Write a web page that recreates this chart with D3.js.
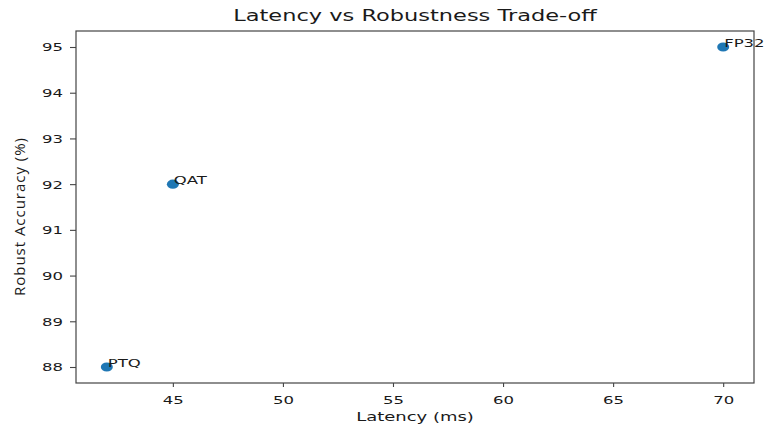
<!DOCTYPE html>
<html>
<head>
<meta charset="utf-8">
<script src="https://cdn.jsdelivr.net/npm/d3@7"></script>
<style>
  body { margin: 0; background: #fff; }
  text { font-family: "DejaVu Sans", sans-serif; fill: #1a1a1a; }
</style>
</head>
<body>
<div id="chart"></div>
<script>
// data
var models = ["FP32", "QAT", "PTQ"];
var latency = [70, 45, 42];
var robustAcc = [95, 92, 88];
var xTicks = [45, 50, 55, 60, 65, 70];
var yTicks = [88, 89, 90, 91, 92, 93, 94, 95];

var svgWidth = 767;
var svgHeight = 426;
var margin = { top: 31, right: 13, bottom: 43, left: 76 };
var width = svgWidth - margin.left - margin.right;
var height = svgHeight - margin.top - margin.bottom;
var sx = 1.5; // picture is stretched sideways

var svg = d3.select("#chart")
  .append("svg")
  .attr("width", svgWidth)
  .attr("height", svgHeight);

var chartGroup = svg.append("g")
  .attr("transform", `translate(${margin.left}, ${margin.top})`);

var xScale = d3.scaleLinear()
  .domain([40.6, 71.4])
  .range([0, width]);

var yScale = d3.scaleLinear()
  .domain([87.65, 95.35])
  .range([height, 0]);

var bottomAxis = d3.axisBottom(xScale).tickValues(xTicks).tickSize(4);
var leftAxis = d3.axisLeft(yScale).tickValues(yTicks).tickSize(6);

var xg = chartGroup.append("g")
  .attr("transform", `translate(0, ${height})`)
  .call(bottomAxis);
xg.select(".domain").remove();
xg.selectAll("line").attr("stroke", "#444").attr("stroke-width", 1.1);
xg.selectAll("text")
  .attr("x", 0).attr("y", 0).attr("dy", 0)
  .attr("transform", `translate(0, 21) scale(${sx}, 1)`)
  .style("font-size", "11px")
  .style("font-family", "DejaVu Sans");

var yg = chartGroup.append("g").call(leftAxis);
yg.select(".domain").remove();
yg.selectAll("line").attr("stroke", "#444").attr("stroke-width", 1.1);
yg.selectAll("text")
  .attr("x", 0).attr("dy", "0.36em")
  .attr("transform", `translate(-13, 0) scale(${sx}, 1)`)
  .style("font-size", "11px")
  .style("font-family", "DejaVu Sans");

// frame
chartGroup.append("rect")
  .attr("width", width)
  .attr("height", height)
  .attr("fill", "none")
  .attr("stroke", "#444")
  .attr("stroke-width", 1.2);

// points
chartGroup.selectAll("ellipse")
  .data(models)
  .enter()
  .append("ellipse")
  .attr("cx", (d, i) => xScale(latency[i]))
  .attr("cy", (d, i) => yScale(robustAcc[i]))
  .attr("rx", 6)
  .attr("ry", 4.6)
  .attr("fill", "#1f77b4");

chartGroup.selectAll(".ptLabel")
  .data(models)
  .enter()
  .append("text")
  .attr("class", "ptLabel")
  .text(d => d)
  .attr("transform", (d, i) => `translate(${xScale(latency[i]) + 1}, ${yScale(robustAcc[i])}) scale(${sx}, 1)`)
  .style("font-size", "11px");

// title and axis labels
svg.append("text")
  .attr("transform", `translate(${margin.left + width / 2}, 21) scale(${sx}, 1)`)
  .attr("text-anchor", "middle")
  .style("font-size", "15px")
  .text("Latency vs Robustness Trade-off");

svg.append("text")
  .attr("transform", `translate(${margin.left + width / 2}, 421) scale(${sx}, 1)`)
  .attr("text-anchor", "middle")
  .style("font-size", "12px")
  .text("Latency (ms)");

svg.append("text")
  .attr("transform", `translate(25, ${margin.top + height / 2 + 10}) rotate(-90)`)
  .attr("text-anchor", "middle")
  .style("font-size", "15px")
  .style("font-family", "'Open Sans', sans-serif")
  .attr("textLength", 158)
  .text("Robust Accuracy (%)");
</script>
</body>
</html>
